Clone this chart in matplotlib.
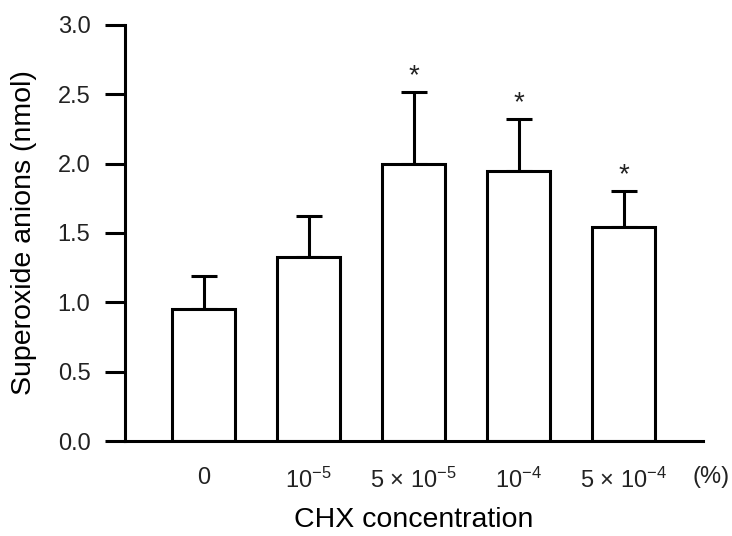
import matplotlib
matplotlib.use("Agg")
import matplotlib.pyplot as plt
import numpy as np

plt.rcParams["font.family"] = ["Liberation Sans", "DejaVu Sans"]
plt.rcParams["mathtext.fontset"] = "custom"
plt.rcParams["mathtext.rm"] = "Liberation Sans"
plt.rcParams["mathtext.it"] = "Liberation Sans:italic"
plt.rcParams["mathtext.bf"] = "Liberation Sans:bold"
plt.rcParams["text.color"] = "#222222"
plt.rcParams["xtick.labelcolor"] = "#222222"
plt.rcParams["ytick.labelcolor"] = "#222222"

# data
categories = ["0", "10$^{-5}$", "5 \u00d7 10$^{-5}$", "10$^{-4}$", "5 \u00d7 10$^{-4}$"]
means = [0.95, 1.33, 2.00, 1.95, 1.54]
sem = [0.24, 0.29, 0.52, 0.37, 0.26]
significant = [False, False, True, True, True]
yticks = [0.0, 0.5, 1.0, 1.5, 2.0, 2.5, 3.0]

lw = 2.2
fig = plt.figure(figsize=(7.32, 5.36), dpi=100)
ax = fig.add_axes([0.1708, 0.1772, 0.7896, 0.7762])

x = np.arange(len(categories))
ax.bar(x, means, width=0.6, color="white", edgecolor="black", linewidth=lw, zorder=2)
ax.errorbar(x, means, yerr=[np.zeros(len(sem)), sem], fmt="none", ecolor="black",
            elinewidth=lw, capsize=9.5, capthick=lw, zorder=1)

for xi, m, e, s in zip(x, means, sem, significant):
    if s:
        ax.annotate("*", (xi, m + e), xytext=(0, 2), textcoords="offset points",
                    ha="center", va="bottom", fontsize=20)

ax.set_xlim(-0.748, 4.757)
ax.set_ylim(0, 3.0)
ax.set_yticks(yticks)
ax.set_yticklabels([f"{t:.1f}" for t in yticks])
ax.set_xticks(x)
ax.set_xticklabels(categories)

ax.spines["top"].set_visible(False)
ax.spines["right"].set_visible(False)
ax.spines["left"].set_linewidth(lw)
ax.spines["bottom"].set_linewidth(lw)
ax.tick_params(axis="y", direction="out", length=14.4, width=lw, labelsize=17, pad=10.5)
ax.tick_params(axis="x", length=0, labelsize=17, pad=19)

ax.set_ylabel("Superoxide anions (nmol)", fontsize=20.5, labelpad=15)
ax.set_xlabel("CHX concentration", fontsize=20.5)
ax.xaxis.set_label_coords(0.5, -0.158)
ax.text(1.014, -0.101, "(%)", transform=ax.transAxes, ha="center", va="baseline", fontsize=17)

fig.savefig("out.png", dpi=100)
